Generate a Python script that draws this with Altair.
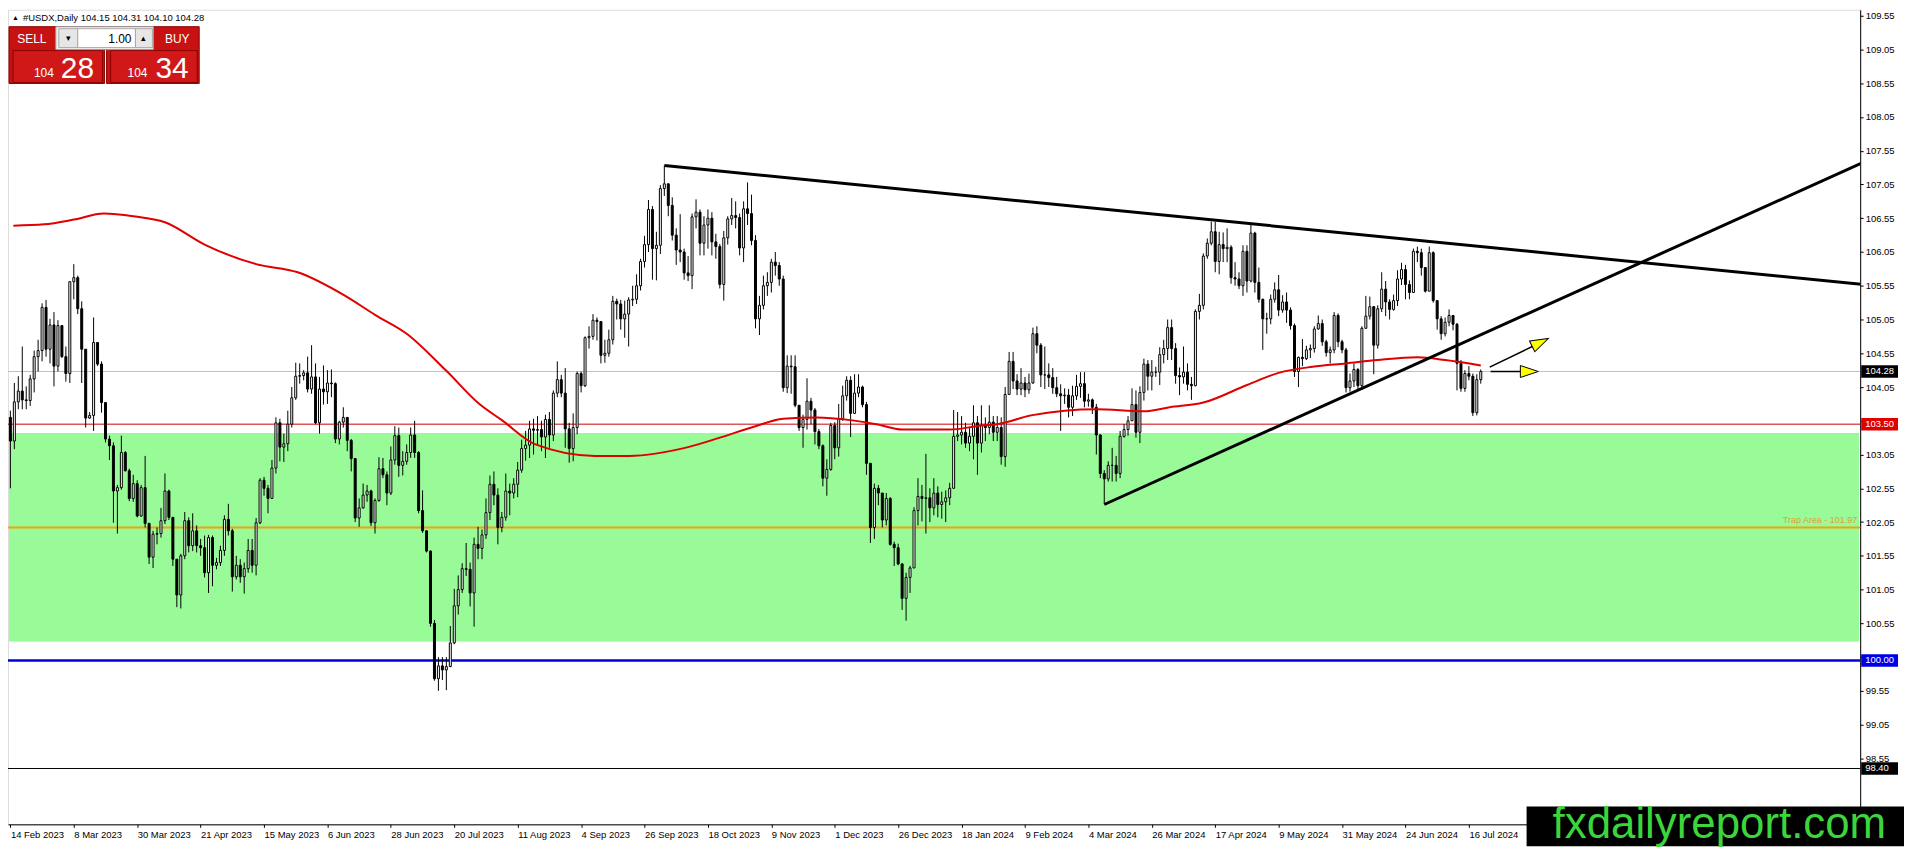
import json
import altair as alt
import pandas as pd

# ---------------- data ----------------
first_open = 103.60
closes = [
    103.25, 103.83, 103.99, 103.86, 103.85, 104.17, 104.50, 104.59, 105.23, 104.61,
    104.97, 104.36, 104.96, 104.50, 104.25, 105.61, 105.67, 105.21, 104.61, 103.59,
    103.63, 104.71, 104.39, 103.82, 103.28, 103.18, 102.51, 102.56, 103.08, 102.81,
    102.40, 102.62, 102.14, 102.56, 102.03, 101.53, 101.87, 101.88, 102.07, 102.51,
    102.12, 101.50, 100.97, 101.55, 102.07, 101.70, 101.92, 101.70, 101.67, 101.30,
    101.82, 101.41, 101.45, 101.63, 102.09, 101.92, 101.24, 101.41, 101.24, 101.36,
    101.63, 101.41, 102.04, 102.67, 102.55, 102.40, 102.85, 103.52, 103.16, 103.21,
    103.50, 103.89, 104.21, 104.22, 104.26, 104.02, 104.20, 103.52, 104.02, 103.98,
    104.11, 104.10, 103.28, 103.53, 103.60, 103.26, 102.99, 102.11, 102.26, 102.45,
    102.51, 102.04, 102.37, 102.84, 102.75, 102.48, 102.97, 103.33, 102.89, 102.95,
    103.08, 103.34, 103.08, 102.22, 101.92, 101.62, 100.55, 99.73, 99.92, 99.86,
    99.91, 100.26, 100.81, 101.05, 101.36, 101.35, 101.00, 101.72, 101.66, 101.86,
    102.19, 102.61, 102.45, 101.97, 102.12, 102.51, 102.48, 102.61, 102.82, 103.14,
    103.19, 103.43, 103.41, 103.42, 103.31, 103.57, 103.34, 103.96, 104.16, 103.96,
    103.43, 103.14, 103.45, 104.25, 104.07, 104.78, 104.80, 105.04, 105.02, 104.52,
    104.55, 104.75, 105.32, 105.28, 105.06, 105.13, 105.34, 105.35, 105.55, 105.91,
    106.16, 106.68, 106.10, 106.15, 106.99, 107.06, 106.74, 106.30, 106.08, 106.05,
    105.74, 105.70, 106.57, 106.64, 106.18, 106.45, 106.55, 106.20, 106.13, 105.57,
    106.26, 106.54, 106.59, 106.56, 106.11, 106.69, 106.62, 106.22, 105.06, 105.26,
    105.55, 105.60, 105.90, 105.85, 105.65, 104.04, 104.36, 104.35, 103.78, 103.45,
    103.57, 103.84, 103.71, 103.39, 103.18, 102.70, 102.83, 103.48, 103.15, 103.58,
    103.92, 104.15, 103.66, 103.96, 104.05, 103.79, 102.92, 101.97, 102.55, 102.48,
    102.08, 102.40, 101.72, 101.67, 101.43, 100.92, 101.23, 101.37, 102.22, 102.43,
    102.40, 102.41, 102.26, 102.48, 102.31, 102.35, 102.41, 102.55, 103.32, 103.34,
    103.38, 103.22, 103.32, 103.52, 103.22, 103.48, 103.45, 103.53, 103.38, 103.45,
    103.02, 103.94, 104.43, 104.14, 104.02, 104.11, 104.01, 104.11, 104.84, 104.67,
    104.23, 104.23, 104.19, 104.04, 103.95, 103.92, 103.93, 103.75, 103.92, 104.06,
    104.10, 103.84, 103.86, 103.75, 103.34, 102.77, 102.69, 102.89, 102.89, 102.77,
    103.32, 103.42, 103.55, 103.79, 103.38, 103.97, 104.39, 104.21, 104.27, 104.27,
    104.53, 104.62, 104.93, 104.62, 104.22, 104.20, 104.27, 104.09, 104.07, 105.17,
    105.26, 105.99, 106.18, 106.35, 105.91, 106.16, 106.10, 106.12, 105.67, 105.65,
    105.55, 106.06, 105.62, 106.33, 105.60, 105.35, 105.06, 105.06, 105.35, 105.49,
    105.19, 105.31, 105.19, 104.96, 104.28, 104.49, 104.47, 104.60, 104.62, 104.91,
    104.99, 104.72, 104.56, 104.60, 105.11, 104.72, 104.60, 104.04, 104.14, 104.31,
    104.07, 104.92, 105.10, 105.24, 104.67, 105.21, 105.50, 105.31, 105.20, 105.33,
    105.65, 105.79, 105.57, 105.45, 106.06, 106.04, 105.82, 105.47, 106.04, 105.33,
    105.06, 104.84, 105.01, 105.11, 104.98, 104.40, 104.03, 104.25, 104.21, 103.67,
    104.16, 104.28,
]
highs = [
    103.70, 104.11, 104.21, 104.65, 104.06, 104.23, 104.59, 104.75, 105.29, 105.34,
    105.06, 105.16, 105.04, 104.96, 104.65, 105.61, 105.87, 105.70, 105.32, 104.36,
    103.68, 105.08, 104.64, 104.43, 103.82, 103.33, 103.23, 102.60, 103.33, 103.10,
    102.84, 102.75, 102.67, 102.60, 103.03, 102.04, 101.92, 101.97, 102.26, 102.77,
    102.53, 102.12, 101.49, 101.58, 102.20, 102.12, 102.18, 102.00, 101.80, 101.85,
    101.86, 101.85, 101.52, 101.70, 102.15, 102.32, 101.95, 101.55, 101.50, 101.45,
    101.80, 101.80, 102.11, 102.70, 102.72, 102.60, 102.97, 103.60, 103.58, 103.36,
    103.70, 104.05, 104.41, 104.40, 104.30, 104.50, 104.67, 104.40, 104.20, 104.37,
    104.30, 104.31, 104.12, 103.55, 103.75, 103.60, 103.28, 103.00, 102.40, 102.62,
    102.60, 102.53, 102.40, 103.01, 103.00, 102.80, 103.17, 103.47, 103.45, 103.10,
    103.20, 103.45, 103.55, 103.10, 102.52, 101.93, 101.63, 100.60, 100.05, 100.05,
    100.05, 100.51, 101.06, 101.26, 101.44, 101.74, 101.45, 101.82, 101.98, 101.94,
    102.40, 102.74, 102.80, 102.55, 102.20, 102.77, 102.62, 102.70, 102.94, 103.27,
    103.40, 103.55, 103.58, 103.62, 103.55, 103.64, 103.68, 104.00, 104.43, 104.23,
    104.33, 103.52, 103.66, 104.28, 104.28, 104.80, 104.95, 105.13, 105.08, 104.87,
    104.75, 104.90, 105.40, 105.36, 105.34, 105.33, 105.38, 105.55, 105.72, 105.95,
    106.29, 106.82, 106.73, 106.35, 107.04, 107.33, 107.06, 106.86, 106.40, 106.61,
    106.10, 105.99, 106.62, 106.83, 106.68, 106.58, 106.68, 106.64, 106.32, 106.17,
    106.36, 106.58, 106.85, 106.80, 106.62, 106.80, 107.08, 106.90, 106.30, 105.40,
    105.70, 105.75, 105.95, 106.05, 105.90, 105.70, 104.52, 104.52, 104.52, 103.72,
    103.64, 104.18, 103.89, 103.74, 103.43, 103.20, 102.98, 103.52, 103.53, 103.80,
    104.07, 104.21, 104.21, 104.24, 104.24, 104.07, 103.83, 102.87, 102.62, 102.60,
    102.48, 102.48, 102.42, 101.76, 101.73, 101.44, 101.30, 101.40, 102.27, 102.70,
    102.60, 103.06, 102.55, 102.70, 102.58, 102.50, 102.52, 102.63, 103.71, 103.68,
    103.62, 103.52, 103.46, 103.78, 103.62, 103.78, 103.60, 103.78, 103.62, 103.62,
    103.60, 104.05, 104.57, 104.57, 104.24, 104.33, 104.20, 104.25, 104.93, 104.95,
    104.70, 104.65, 104.40, 104.33, 104.20, 104.09, 104.03, 104.02, 104.07, 104.23,
    104.27, 104.27, 103.95, 103.88, 103.80, 103.35, 102.82, 102.95, 103.15, 103.03,
    103.40, 103.50, 103.62, 104.03, 104.00, 104.06, 104.47, 104.45, 104.45, 104.35,
    104.64, 104.75, 105.05, 105.05, 104.70, 104.34, 104.65, 104.40, 104.20, 105.20,
    105.43, 106.03, 106.25, 106.50, 106.50, 106.35, 106.34, 106.40, 106.15, 105.90,
    105.75, 106.15, 106.15, 106.46, 106.35, 105.82, 105.36, 105.15, 105.42, 105.60,
    105.71, 105.41, 105.45, 105.23, 104.99, 104.50, 104.76, 104.66, 104.68, 104.95,
    105.11, 105.05, 104.75, 104.65, 105.16, 105.14, 104.75, 104.63, 104.25, 104.40,
    104.33, 104.95, 105.40, 105.39, 105.25, 105.26, 105.75, 105.62, 105.35, 105.42,
    105.78, 105.89, 105.86, 105.63, 106.10, 106.13, 106.10, 105.80, 106.13, 106.06,
    105.33, 105.10, 105.08, 105.20, 105.11, 105.00, 104.45, 104.30, 104.36, 104.25,
    104.24, 104.31,
]
lows = [
    102.55, 103.13, 103.72, 103.72, 103.72, 103.77, 103.97, 104.28, 104.43, 104.50,
    104.40, 104.06, 104.28, 104.48, 104.13, 104.11, 105.35, 105.13, 104.11, 103.45,
    103.58, 103.40, 104.36, 103.67, 103.23, 102.97, 102.04, 101.88, 102.53, 102.80,
    102.36, 102.35, 102.12, 102.13, 101.97, 101.43, 101.37, 101.72, 101.82, 102.02,
    102.08, 101.40, 100.79, 100.77, 101.50, 101.60, 101.62, 101.60, 101.55, 101.23,
    101.00, 101.10, 101.35, 101.40, 101.55, 101.85, 101.02, 101.20, 101.15, 100.99,
    101.30, 101.30, 101.26, 102.02, 102.44, 102.18, 102.55, 102.77, 102.95, 102.94,
    103.10, 103.45, 103.86, 104.10, 104.15, 103.97, 103.95, 103.50, 103.36, 103.79,
    103.80, 103.90, 103.22, 103.20, 103.45, 103.10, 102.80, 102.05, 101.98, 102.25,
    102.35, 101.99, 101.88, 102.35, 102.70, 102.30, 102.45, 102.90, 102.72, 102.74,
    102.90, 103.00, 103.00, 102.18, 101.89, 101.60, 100.50, 99.70, 99.55, 99.71,
    99.56, 99.90, 100.24, 100.68, 101.00, 101.25, 100.80, 100.50, 101.50, 101.50,
    101.80, 102.08, 102.30, 101.72, 101.90, 102.07, 102.15, 102.40, 102.42, 102.78,
    102.96, 103.00, 103.05, 103.20, 103.10, 103.00, 103.15, 103.25, 103.90, 103.90,
    103.15, 102.93, 102.95, 103.35, 103.97, 104.05, 104.62, 104.75, 104.74, 104.40,
    104.41, 104.50, 104.68, 105.05, 104.90, 104.78, 104.65, 105.25, 105.28, 105.48,
    105.82, 106.05, 105.64, 105.63, 106.02, 106.88, 106.58, 106.22, 105.86, 105.90,
    105.64, 105.62, 105.50, 106.40, 106.00, 106.00, 106.10, 106.00, 105.95, 105.51,
    105.33, 106.16, 106.45, 106.40, 106.00, 105.90, 106.45, 106.15, 104.92, 104.82,
    105.20, 105.40, 105.45, 105.70, 105.55, 103.98, 103.96, 103.95, 103.75, 103.40,
    103.15, 103.42, 103.50, 103.20, 103.13, 102.58, 102.44, 102.81, 102.98, 103.02,
    103.55, 103.85, 103.31, 103.65, 103.90, 103.75, 102.75, 101.74, 101.80, 102.30,
    101.97, 102.00, 101.70, 101.40, 101.41, 100.75, 100.59, 101.00, 101.38, 102.00,
    102.06, 101.88, 102.05, 102.15, 102.12, 102.10, 102.05, 102.30, 102.56, 103.25,
    103.20, 103.15, 103.10, 102.98, 102.75, 103.08, 103.25, 103.35, 103.25, 103.25,
    102.90, 102.87, 103.96, 104.02, 103.93, 103.93, 103.90, 103.95, 104.10, 104.55,
    104.05, 104.02, 104.05, 103.95, 103.90, 103.40, 103.80, 103.60, 103.62, 103.86,
    103.89, 103.75, 103.76, 103.65, 103.05, 102.70, 102.32, 102.65, 102.65, 102.65,
    102.70, 103.30, 103.33, 103.55, 103.30, 103.22, 103.85, 104.00, 104.00, 104.20,
    104.08, 104.40, 104.45, 104.45, 104.10, 103.93, 104.10, 104.00, 103.86, 104.06,
    105.05, 105.20, 105.95, 106.15, 105.75, 105.72, 105.90, 105.90, 105.58, 105.55,
    105.50, 105.40, 105.45, 105.60, 105.45, 105.30, 104.60, 104.84, 104.98, 105.30,
    105.10, 105.15, 105.00, 104.90, 104.20, 104.05, 104.36, 104.45, 104.48, 104.56,
    104.90, 104.66, 104.50, 104.40, 104.55, 104.64, 104.55, 103.97, 103.98, 104.05,
    104.00, 104.02, 104.95, 105.05, 104.24, 104.62, 105.16, 105.10, 105.05, 105.18,
    105.25, 105.56, 105.35, 105.35, 105.60, 105.90, 105.70, 105.45, 105.50, 105.30,
    104.90, 104.75, 104.80, 104.95, 104.89, 104.00, 103.98, 103.98, 104.15, 103.62,
    103.63, 104.10,
]

ma_idx = [0.75, 8.5, 16, 23.6, 31, 39, 49, 62, 72.5, 84.5, 92, 100, 110, 118.5, 124,
          132.5, 147.5, 156, 171, 179, 187, 195, 203.5, 212, 218.5, 225, 237, 245, 249,
          257.5, 266, 274, 286, 292.5, 301, 312, 320, 328.5, 337, 345, 355, 362, 371]
ma_val = [106.44, 106.46, 106.53, 106.62, 106.58, 106.49, 106.16, 105.87, 105.75, 105.40,
          105.12, 104.84, 104.29, 103.79, 103.56, 103.20, 103.03, 103.03, 103.16, 103.30,
          103.45, 103.58, 103.60, 103.56, 103.50, 103.42, 103.42, 103.48, 103.50, 103.63,
          103.70, 103.72, 103.69, 103.75, 103.82, 104.08, 104.26, 104.35, 104.40, 104.45,
          104.49, 104.45, 104.37]

date_labels = ["14 Feb 2023", "8 Mar 2023", "30 Mar 2023", "21 Apr 2023", "15 May 2023",
               "6 Jun 2023", "28 Jun 2023", "20 Jul 2023", "11 Aug 2023", "4 Sep 2023",
               "26 Sep 2023", "18 Oct 2023", "9 Nov 2023", "1 Dec 2023", "26 Dec 2023",
               "18 Jan 2024", "9 Feb 2024", "4 Mar 2024", "26 Mar 2024", "17 Apr 2024",
               "9 May 2024", "31 May 2024", "24 Jun 2024", "16 Jul 2024"]
price_ticks = [98.55, 99.05, 99.55, 100.05, 100.55, 101.05, 101.55, 102.05, 102.55, 103.05,
               103.55, 104.05, 104.55, 105.05, 105.55, 106.05, 106.55, 107.05, 107.55,
               108.05, 108.55, 109.05, 109.55]

upper_idx = [165, 467.25]
upper_p = [107.33, 105.57]
lower_idx = [276, 467.25]
lower_p = [102.31, 107.37]

bid_level = 104.28
red_level = 103.50
trap_level = 101.97
blue_level = 100.00
black_level = 98.40
zone_top = 103.37
zone_bottom = 100.28

arrow_up_idx = [373.25, 384.0]
arrow_up_p = [104.345, 104.65]
arrow_up_head = [386.0, 104.71]
arrow_flat_idx = [373.5, 381.0]
arrow_flat_p = [104.28, 104.28]
arrow_flat_head = [383.25, 104.28]

header_text = "#USDX,Daily  104.15 104.31 104.10 104.28"
sell_big, sell_small = "28", "104"
buy_big, buy_small = "34", "104"
lot_text = "1.00"
watermark = "fxdailyreport.com"

# ---------------- layout ----------------
W, H = 1860, 818
FONT = "Liberation Sans"
xscale = alt.Scale(domain=[-0.6, 466.73], nice=False, zero=False)
yscale = alt.Scale(domain=[97.573, 109.638], nice=False, zero=False)

label_expr = json.dumps(date_labels) + "[round(datum.value/16)]"
xaxis = alt.Axis(values=list(range(0, 369, 16)), labelExpr=label_expr, labelAlign="left",
                 labelBaseline="top", labelPadding=2, tickSize=3, tickColor="black",
                 domainColor="black", labelColor="black", labelFont=FONT, labelFontSize=9.5,
                 labelOverlap=False, labelFlush=False, grid=False, title=None)
yaxis = alt.Axis(orient="right", values=price_ticks, format=".2f", labelFont=FONT,
                 labelFontSize=9.5, labelPadding=2, tickSize=3, tickColor="black",
                 domainColor="black", labelColor="black", labelOverlap=False,
                 labelFlush=False, grid=False, title=None)


def X(f):
    return alt.X(f, type="quantitative", scale=xscale, axis=xaxis)


def Y(f):
    return alt.Y(f, type="quantitative", scale=yscale, axis=yaxis)


n = min(len(closes), len(highs), len(lows))
opens = [first_open] + closes[:n - 1]
rows = []
for i in range(n):
    o, c = opens[i], closes[i]
    rows.append({"i": i, "o": o, "c": c,
                 "h": max(highs[i], o, c), "l": min(lows[i], o, c),
                 "x0": i - 0.25, "x1": i + 0.25,
                 "col": "white" if c >= o else "black"})
cdf = pd.DataFrame(rows)
one = pd.DataFrame({"a": [0]})

layers = []

# green zone
layers.append(alt.Chart(pd.DataFrame({"t": [zone_top], "b": [zone_bottom]}))
              .mark_rect(color="#98fb98")
              .encode(x=alt.value(1), x2=alt.value(W - 1), y=Y("t"), y2="b"))


def hline(level, color, width):
    return (alt.Chart(pd.DataFrame({"p": [level]}))
            .mark_rule(color=color, strokeWidth=width)
            .encode(y=Y("p")))


layers += [hline(trap_level, "#f0a30a", 2), hline(blue_level, "#0000dd", 2.5),
           hline(red_level, "#cc0000", 1), hline(bid_level, "#c0c0c0", 1),
           hline(black_level, "black", 1)]

# candles
layers.append(alt.Chart(cdf).mark_rule(color="black", strokeWidth=1, clip=True)
              .encode(x=X("i"), y=Y("l"), y2="h"))
layers.append(alt.Chart(cdf).mark_rect(stroke="black", strokeWidth=1, clip=True)
              .encode(x=X("x0"), x2="x1", y=Y("o"), y2="c",
                      fill=alt.Fill("col:N", scale=None)))

# moving average
layers.append(alt.Chart(pd.DataFrame({"i": ma_idx, "v": ma_val}))
              .mark_line(color="#e00000", strokeWidth=2, interpolate="monotone", clip=True)
              .encode(x=X("i"), y=Y("v")))

# trend lines
tl = pd.DataFrame({"line": ["u", "u", "l", "l"],
                   "i": upper_idx + lower_idx, "p": upper_p + lower_p})
layers.append(alt.Chart(tl).mark_line(color="black", strokeWidth=3, clip=True)
              .encode(x=X("i"), y=Y("p"), detail="line:N"))

# arrows
ar = pd.DataFrame({"id": ["a", "a", "b", "b"],
                   "i": arrow_up_idx + arrow_flat_idx, "p": arrow_up_p + arrow_flat_p})
layers.append(alt.Chart(ar).mark_line(color="black", strokeWidth=1.5)
              .encode(x=X("i"), y=Y("p"), detail="id:N"))
head_path = "M -0.9 -0.6 L 0.9 0 L -0.9 0.6 Z"
for (hi, hp), ang in ((arrow_up_head, 334), (arrow_flat_head, 0)):
    layers.append(alt.Chart(pd.DataFrame({"i": [hi], "p": [hp]}))
                  .mark_point(shape=head_path, size=400, filled=True, fill="#ffff00",
                              stroke="black", strokeWidth=1, opacity=1, angle=ang)
                  .encode(x=X("i"), y=Y("p")))

# trap area label
layers.append(alt.Chart(pd.DataFrame({"p": [trap_level]}))
              .mark_text(text="Trap Area - 101.97", align="right", baseline="bottom", dy=-2,
                         fontSize=9, font=FONT, color="#e0a030")
              .encode(x=alt.value(W - 3), y=Y("p")))

# price boxes on the axis
bx = pd.DataFrame({"p": [bid_level, red_level, blue_level, black_level],
                   "t": ["104.28", "103.50", "100.00", "98.40"],
                   "col": ["black", "#e00000", "#0000e6", "black"]})
box_path = "M -1 -0.34 L 1 -0.34 L 1 0.34 L -1 0.34 Z"
layers.append(alt.Chart(bx).mark_point(shape=box_path, size=1369, filled=True, opacity=1,
                                       strokeWidth=0)
              .encode(x=alt.value(W + 19.5), y=Y("p"), fill=alt.Fill("col:N", scale=None)))
layers.append(alt.Chart(bx).mark_text(color="white", align="left", baseline="middle",
                                      fontSize=9.5, font=FONT)
              .encode(x=alt.value(W + 5), y=Y("p"), text="t:N"))


# ---------------- top-left panel (screen overlay) ----------------
def orect(x, x2, y, y2, fill, stroke=""):
    kw = {"fill": fill}
    if stroke:
        kw["stroke"] = stroke
        kw["strokeWidth"] = 1
    return alt.Chart(one).mark_rect(**kw).encode(
        x=alt.value(x), x2=alt.value(x2), y=alt.value(y), y2=alt.value(y2))


def otext(t, x, y, size, color, align="left", baseline="middle"):
    return alt.Chart(one).mark_text(text=t, fontSize=size, color=color, align=align,
                                    baseline=baseline, font=FONT).encode(
        x=alt.value(x), y=alt.value(y))


layers += [
    otext("\u25b2", 4, 8, 7, "black"),
    otext(header_text, 15, 8, 9.5, "black"),
    orect(1, 97, 17, 74, "#c81212", "#8a0000"),
    orect(99, 192, 17, 74, "#c81212", "#8a0000"),
    orect(5, 95, 41, 73, "#d01818", "#8a0000"),
    orect(103, 190, 41, 73, "#d01818", "#8a0000"),
    orect(48, 146, 17, 40, "#f0f0f0", "#9a9a9a"),
    orect(51, 70, 19, 38, "#e6e6e6", "#a8a8a8"),
    orect(70, 128, 19, 38, "white", "#a8a8a8"),
    orect(128, 145, 19, 38, "#e6e6e6", "#a8a8a8"),
    otext("\u25be", 60.5, 28, 9, "black", align="center"),
    otext("\u25b4", 136.5, 28, 9, "black", align="center"),
    otext(lot_text, 124, 29, 12, "black", align="right"),
    otext("SELL", 24, 29, 12, "white", align="center"),
    otext("BUY", 170, 29, 12, "white", align="center"),
    otext(sell_small, 36, 68, 12, "white", align="center", baseline="alphabetic"),
    otext(sell_big, 53, 69, 30, "white", baseline="alphabetic"),
    otext(buy_small, 130, 68, 12, "white", align="center", baseline="alphabetic"),
    otext(buy_big, 148, 69, 30, "white", baseline="alphabetic"),
]

# watermark
layers.append(orect(W - 335, W + 44, 800, 840, "black"))
layers.append(otext(watermark, W + 26, 832, 44, "#3cd63c", align="right",
                    baseline="alphabetic"))

chart = (alt.layer(*layers)
         .properties(width=W, height=H, autosize=alt.AutoSizeParams(type="none"),
                     padding={"left": 0, "top": 0, "right": 44, "bottom": 22})
         .configure_view(stroke="black", strokeWidth=1)
         .configure(background="white"))

chart.save("out.html", embed_options={"renderer": "svg", "actions": False})
